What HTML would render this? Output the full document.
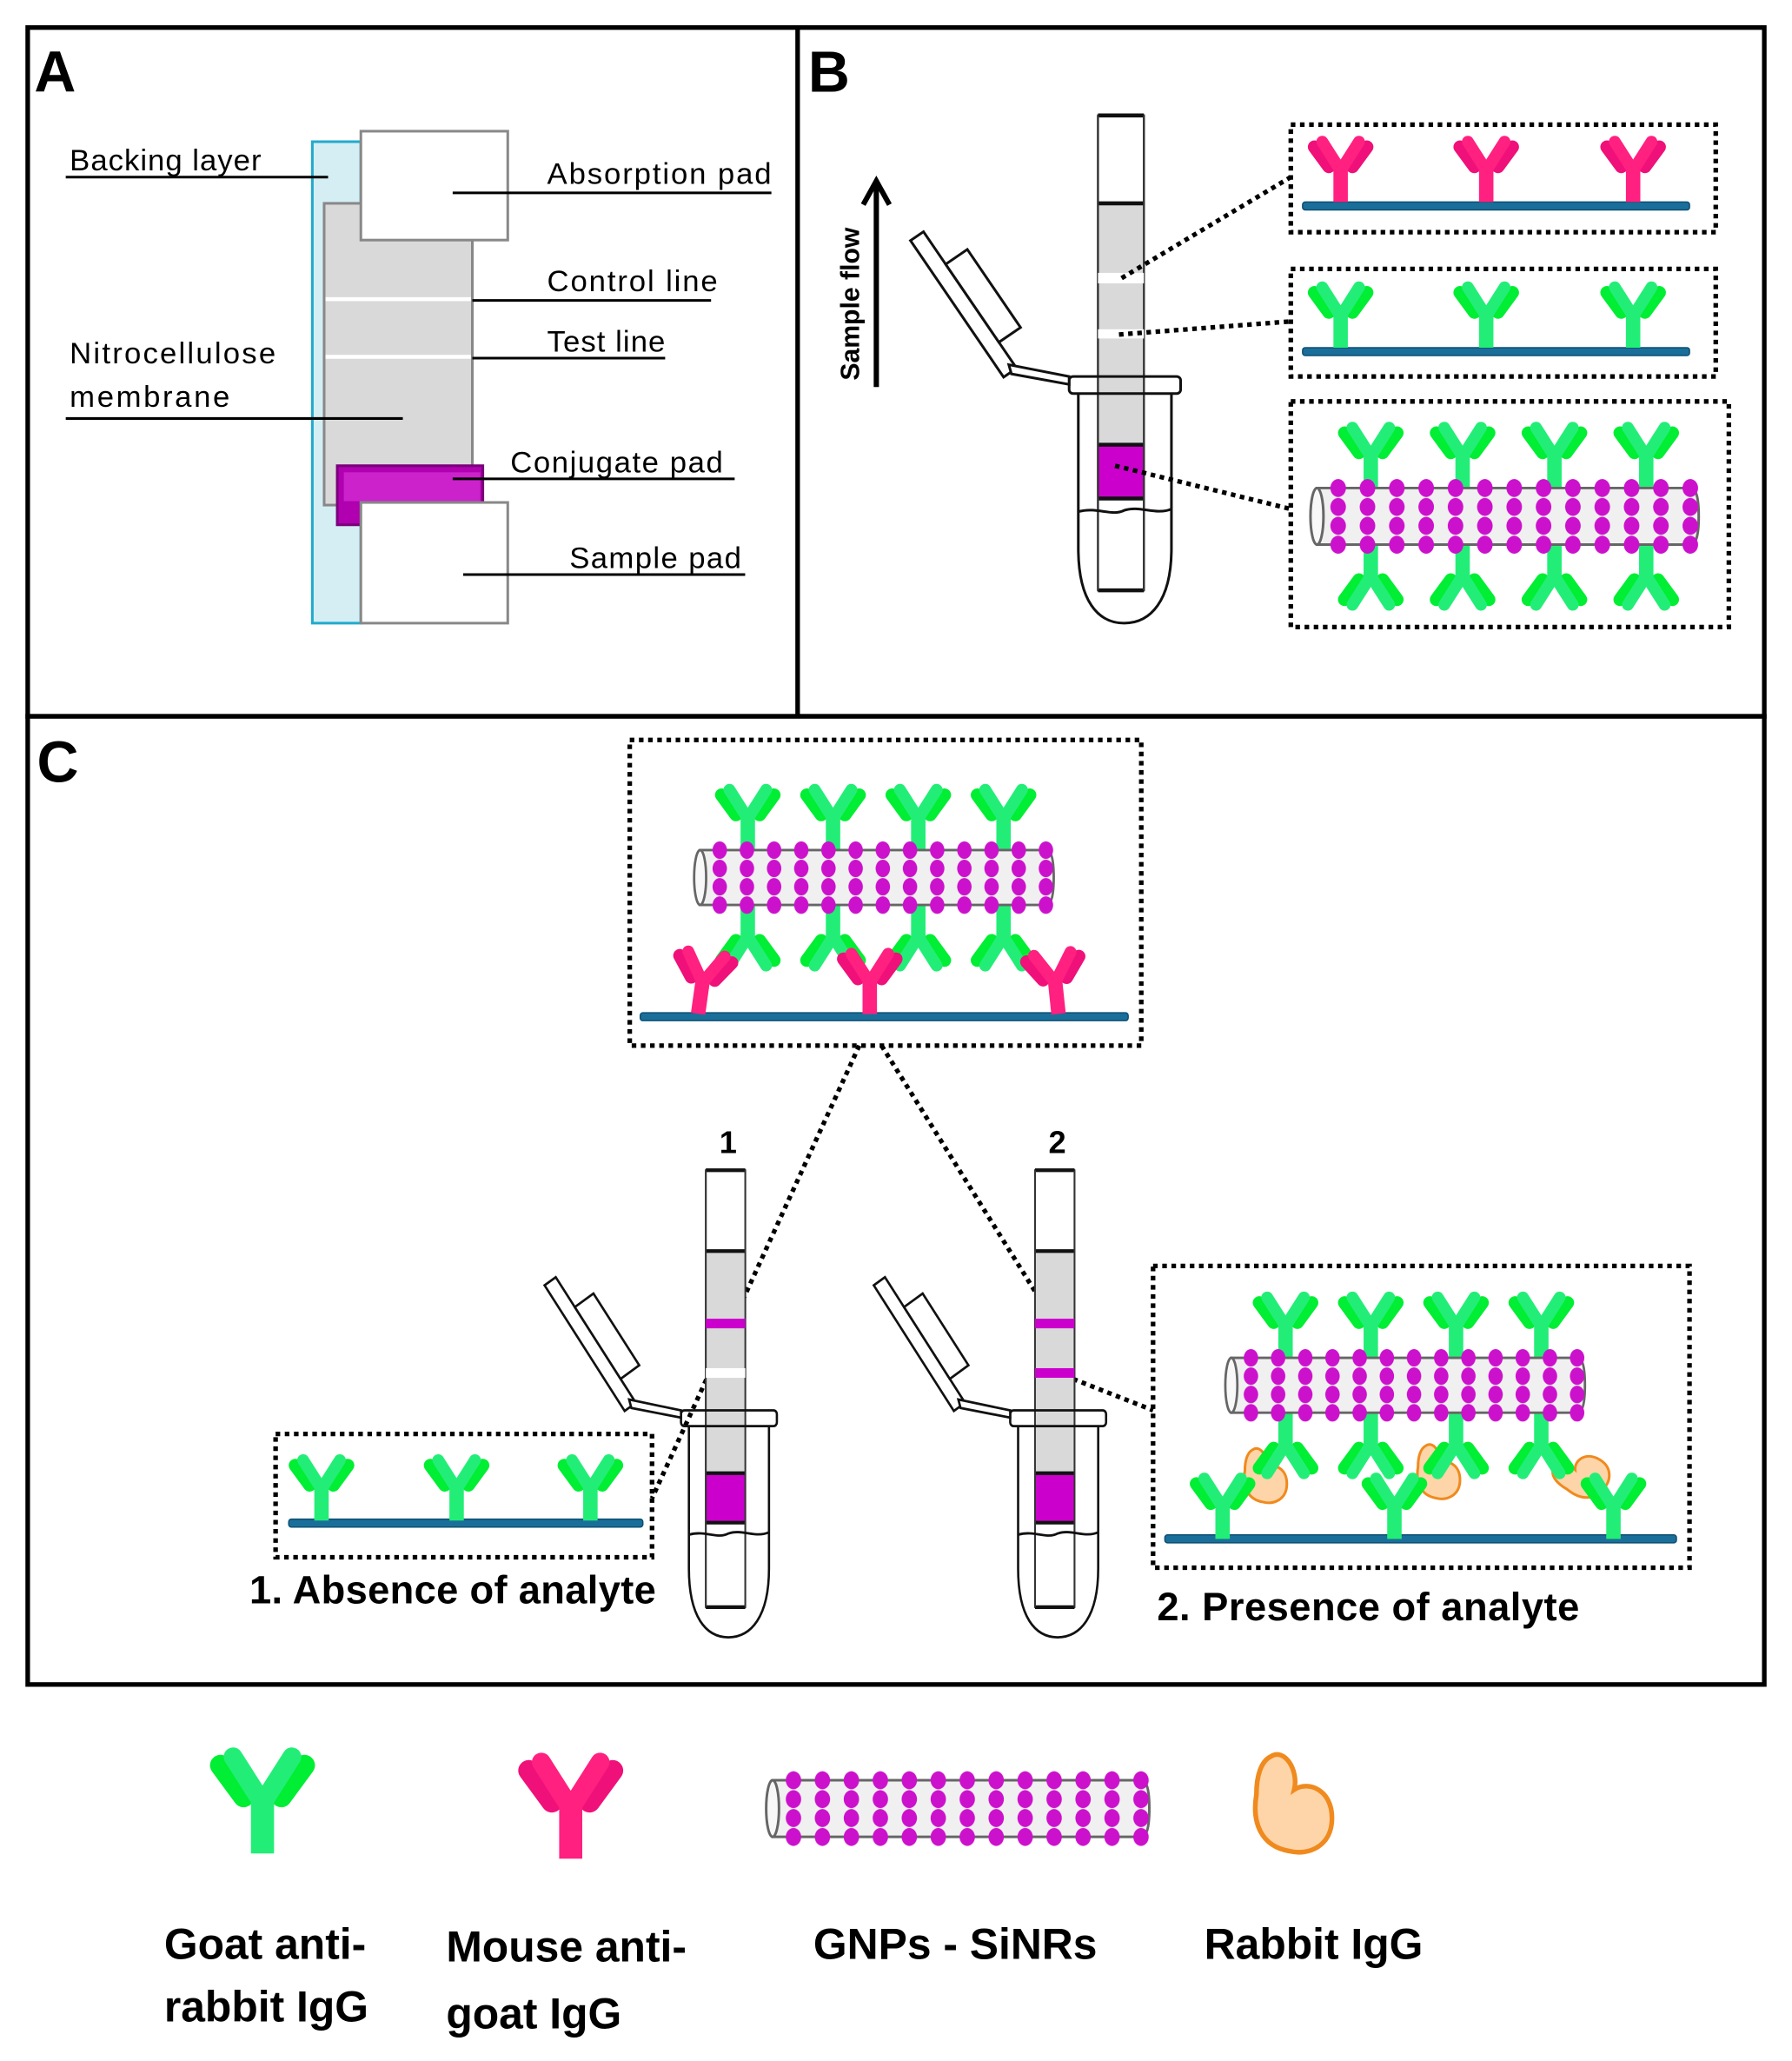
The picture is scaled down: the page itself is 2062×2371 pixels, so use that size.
<!DOCTYPE html>
<html><head><meta charset="utf-8"><style>
html,body{margin:0;padding:0;background:#fff}
svg{display:block}
text{font-family:"Liberation Sans",sans-serif}
</style></head><body>
<svg width="2062" height="2371" viewBox="0 0 1366 1571" xmlns="http://www.w3.org/2000/svg">
<defs>
<pattern id="dp" patternUnits="userSpaceOnUse" x="9" y="-7.35" width="22.6" height="14.7">
<ellipse cx="11.3" cy="7.35" rx="6" ry="7" fill="#cc11cc"/>
</pattern>
<g id="rod">
<path d="M4,0 L292,0 Q298,0 298,22 Q298,44 292,44 L4,44 Z" fill="#f0f0f0" stroke="#666" stroke-width="2"/>
<ellipse cx="4" cy="22" rx="5" ry="22" fill="#f8f8f8" stroke="#666" stroke-width="2"/>
<rect x="9" y="-7.35" width="293.8" height="58.8" fill="url(#dp)"/>
</g>
<g id="abg" stroke-linecap="round">
<path d="M-9,1 L-20,-14 M9,1 L20,-14" stroke="#00ee33" stroke-width="10"/>
<path d="M0,2 L0,28" stroke="#22ee77" stroke-width="11" stroke-linecap="butt"/>
<path d="M0,4 L-14,-18 M0,4 L14,-18" stroke="#22ee77" stroke-width="9"/>
</g>
<g id="abp" stroke-linecap="round">
<path d="M-9,1 L-20,-14 M9,1 L20,-14" stroke="#f0107a" stroke-width="10"/>
<path d="M0,2 L0,28" stroke="#ff2080" stroke-width="11" stroke-linecap="butt"/>
<path d="M0,4 L-14,-18 M0,4 L14,-18" stroke="#ff2080" stroke-width="9"/>
</g>
<path id="rab" d="M-8,-20 C-2,-24 4,-14 2,-6 C8,-10 18,-6 18,6 C18,18 8,22 0,20 C-12,18 -16,8 -14,-4 C-14,-12 -12,-18 -8,-20Z" fill="#fdd5a8" stroke="#f08a1e" stroke-width="2"/>
<g id="tubebase">
<rect x="0" y="0" width="35" height="362" fill="#fff" stroke="#333" stroke-width="1.5"/>
<rect x="0" y="67" width="35" height="183" fill="#d9d9d9"/>
<rect x="0" y="252" width="35" height="40" fill="#cc00cc"/>
<path d="M0,0H35M0,67H35M0,251H35M0,292H35M0,362H35" stroke="#111" stroke-width="3"/>
<path d="M0,0V362M35,0V362" stroke="#333" stroke-width="1.5"/>
</g>
<g id="tubeouter" fill="none" stroke="#111" stroke-width="2">
<rect x="-22" y="199" width="85" height="13" rx="3" fill="none"/>
<path d="M-15,212 L-15,330 C-15,370 0,387 20,387 C40,387 56,370 56,330 L56,212"/>
<path d="M-15,302 C0,298 10,306 20,301 C32,297 44,305 56,300"/>
<g transform="translate(-138,92) rotate(55.7)" fill="#fff">
<rect x="0" y="-6" width="126" height="12"/>
<rect x="30" y="-26" width="72" height="20"/>
</g>
<polygon points="-68,190 -22,199 -22,205 -66,197" fill="#fff"/>
</g>
</defs>

<!-- panel frames -->
<g fill="none" stroke="#000" stroke-width="3.5">
<rect x="21" y="21" width="1324" height="525"/>
<line x1="608" y1="21" x2="608" y2="546"/>
<rect x="21" y="546" width="1324" height="738"/>
</g>
<text x="26" y="70" font-size="44" font-weight="bold">A</text>
<text x="616" y="70" font-size="44" font-weight="bold">B</text>
<text x="28" y="596" font-size="44" font-weight="bold">C</text>

<!-- Panel A -->
<rect x="238" y="108" width="37" height="367" fill="#d4eef4" stroke="#22aacc" stroke-width="2"/>
<rect x="247" y="155" width="113" height="230" fill="#d9d9d9" stroke="#888" stroke-width="2"/>
<path d="M248,228H359M248,272H359" stroke="#fff" stroke-width="3"/>
<rect x="275" y="100" width="112" height="83" fill="#fff" stroke="#888" stroke-width="2"/>
<path d="M257,355 L368,355 L368,385 L275,385 L275,400 L257,400 Z" fill="#b000b0" stroke="#7a007a" stroke-width="2"/>
<rect x="262" y="360" width="104" height="22" fill="#cc22cc"/>
<rect x="275" y="383" width="112" height="92" fill="#fff" stroke="#888" stroke-width="2"/>
<g stroke="#000" stroke-width="2">
<line x1="50" y1="135" x2="250" y2="135"/>
<line x1="345" y1="147" x2="588" y2="147"/>
<line x1="360" y1="229" x2="542" y2="229"/>
<line x1="360" y1="273" x2="507" y2="273"/>
<line x1="50" y1="319" x2="307" y2="319"/>
<line x1="345" y1="365" x2="560" y2="365"/>
<line x1="353" y1="438" x2="568" y2="438"/>
</g>
<g font-size="23" fill="#000">
<text x="53" y="130" textLength="146">Backing layer</text>
<text x="417" y="140" textLength="171">Absorption pad</text>
<text x="417" y="222" textLength="130">Control line</text>
<text x="417" y="268" textLength="90">Test line</text>
<text x="53" y="277" textLength="157">Nitrocellulose</text>
<text x="53" y="310" textLength="122">membrane</text>
<text x="389" y="360" textLength="162">Conjugate pad</text>
<text x="434" y="433" textLength="131">Sample pad</text>
</g>

<!-- Panel B -->
<line x1="668" y1="295" x2="668" y2="142" stroke="#000" stroke-width="4"/>
<path d="M658,156 L668,138 L678,156" fill="none" stroke="#000" stroke-width="4"/>
<text transform="translate(655,290) rotate(-90)" font-size="20" font-weight="bold">Sample flow</text>
<g transform="translate(837,88)">
<use href="#tubebase"/>
<rect x="0" y="120" width="35" height="8" fill="#fff"/>
<rect x="0" y="163" width="35" height="7" fill="#fff"/>
<use href="#tubeouter"/>
</g>
<g fill="none" stroke="#000" stroke-width="3.5" stroke-dasharray="3.5 3.5">
<rect x="984" y="95" width="324" height="82"/>
<rect x="984" y="205" width="324" height="82"/>
<rect x="984" y="306" width="334" height="172"/>
<line x1="855" y1="212" x2="984" y2="135"/>
<line x1="853" y1="255" x2="984" y2="245"/>
<line x1="850" y1="355" x2="984" y2="388"/>
</g>
<rect x="993" y="154" width="295" height="6" rx="2" fill="#1a6f9a" stroke="#0d4f73"/>
<use href="#abp" x="1022" y="126"/><use href="#abp" x="1133" y="126"/><use href="#abp" x="1245" y="126"/>
<rect x="993" y="265" width="295" height="6" rx="2" fill="#1a6f9a" stroke="#0d4f73"/>
<use href="#abg" x="1022" y="237"/><use href="#abg" x="1133" y="237"/><use href="#abg" x="1245" y="237"/>
<use href="#abg" x="1045" y="344"/><use href="#abg" x="1115" y="344"/><use href="#abg" x="1185" y="344"/><use href="#abg" x="1255" y="344"/>
<g transform="translate(1045,443) rotate(180)"><use href="#abg"/></g>
<g transform="translate(1115,443) rotate(180)"><use href="#abg"/></g>
<g transform="translate(1185,443) rotate(180)"><use href="#abg"/></g>
<g transform="translate(1255,443) rotate(180)"><use href="#abg"/></g>
<g transform="translate(1000,372) scale(0.99,0.98)"><use href="#rod"/></g>

<!-- Panel C top box -->
<g fill="none" stroke="#000" stroke-width="3.5" stroke-dasharray="3.5 3.5">
<rect x="480" y="564" width="390" height="233"/>
<rect x="210" y="1093" width="287" height="94"/>
<rect x="879" y="965" width="409" height="230"/>
<line x1="655" y1="797" x2="497" y2="1142"/>
<line x1="672" y1="797" x2="805" y2="1010"/>
<line x1="805" y1="1046" x2="879" y2="1075"/>
</g>
<rect x="488" y="772" width="372" height="6" rx="2" fill="#1a6f9a" stroke="#0d4f73"/>
<use href="#abg" x="570" y="620"/><use href="#abg" x="635" y="620"/><use href="#abg" x="700" y="620"/><use href="#abg" x="765" y="620"/>
<g transform="translate(570,718) rotate(180)"><use href="#abg"/></g>
<g transform="translate(635,718) rotate(180)"><use href="#abg"/></g>
<g transform="translate(700,718) rotate(180)"><use href="#abg"/></g>
<g transform="translate(765,718) rotate(180)"><use href="#abg"/></g>
<g transform="translate(536,745) rotate(8)"><use href="#abp"/></g>
<g transform="translate(663,745) rotate(0)"><use href="#abp"/></g>
<g transform="translate(804,745) rotate(-6)"><use href="#abp"/></g>
<g transform="translate(530,648) scale(0.917,0.95)"><use href="#rod"/></g>

<!-- tubes C -->
<text x="555" y="879" font-size="24" font-weight="bold" text-anchor="middle">1</text>
<text x="806" y="879" font-size="24" font-weight="bold" text-anchor="middle">2</text>
<g transform="translate(538,892) scale(0.86,0.92)">
<use href="#tubebase"/>
<rect x="0" y="123" width="35" height="8" fill="#cc00cc"/>
<rect x="0" y="164" width="35" height="8" fill="#fff"/>
<use href="#tubeouter"/>
</g>
<g transform="translate(789,892) scale(0.86,0.92)">
<use href="#tubebase"/>
<rect x="0" y="123" width="35" height="8" fill="#cc00cc"/>
<rect x="0" y="164" width="35" height="8" fill="#cc00cc"/>
<use href="#tubeouter"/>
</g>

<!-- small box -->
<rect x="220" y="1158" width="270" height="6" rx="2" fill="#1a6f9a" stroke="#0d4f73"/>
<use href="#abg" x="245" y="1131"/><use href="#abg" x="348" y="1131"/><use href="#abg" x="450" y="1131"/>
<text x="190" y="1222" font-size="30" font-weight="bold" textLength="310">1. Absence of analyte</text>

<!-- right box -->
<rect x="888" y="1170" width="390" height="6" rx="2" fill="#1a6f9a" stroke="#0d4f73"/>
<use href="#abg" x="980" y="1007"/><use href="#abg" x="1045" y="1007"/><use href="#abg" x="1110" y="1007"/><use href="#abg" x="1175" y="1007"/>
<use href="#rab" x="963" y="1125"/><use href="#rab" x="1095" y="1122"/>
<g transform="translate(1205,1125) rotate(-60)"><use href="#rab"/></g>
<g transform="translate(980,1105) rotate(180)"><use href="#abg"/></g>
<g transform="translate(1045,1105) rotate(180)"><use href="#abg"/></g>
<g transform="translate(1110,1105) rotate(180)"><use href="#abg"/></g>
<g transform="translate(1175,1105) rotate(180)"><use href="#abg"/></g>
<use href="#abg" x="932" y="1145"/><use href="#abg" x="1063" y="1145"/><use href="#abg" x="1230" y="1145"/>
<g transform="translate(935,1035) scale(0.917,0.95)"><use href="#rod"/></g>
<text x="882" y="1235" font-size="30" font-weight="bold" textLength="322">2. Presence of analyte</text>

<!-- legend -->
<g transform="translate(200,1368) scale(1.6)"><use href="#abg"/></g>
<g transform="translate(435,1372) scale(1.6)"><use href="#abp"/></g>
<g transform="translate(585,1357) scale(0.977,0.98)"><use href="#rod"/></g>
<g transform="translate(983,1375) scale(1.8)"><use href="#rab"/></g>
<g font-size="33" font-weight="bold">
<text x="125" y="1493">Goat anti-</text>
<text x="125" y="1541">rabbit IgG</text>
<text x="340" y="1495">Mouse anti-</text>
<text x="340" y="1546">goat IgG</text>
<text x="620" y="1493">GNPs - SiNRs</text>
<text x="918" y="1493">Rabbit IgG</text>
</g>
</svg>
</body></html>
